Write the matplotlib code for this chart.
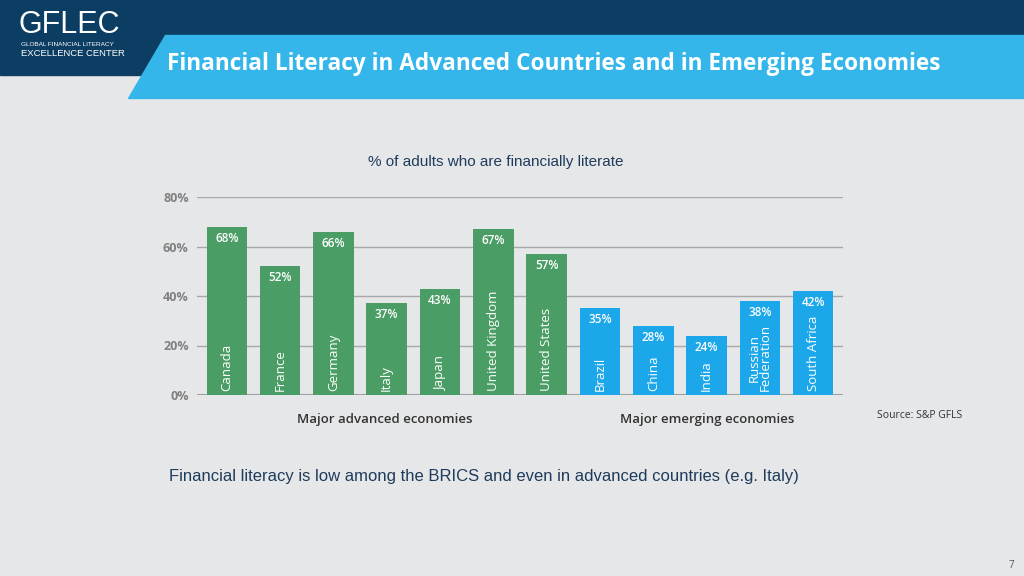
import matplotlib.pyplot as plt
from matplotlib.patches import Polygon, Rectangle

countries = ["Canada", "France", "Germany", "Italy", "Japan", "United Kingdom", "United States",
             "Brazil", "China", "India", "Russian\nFederation", "South Africa"]
values = [68, 52, 66, 37, 43, 67, 57, 35, 28, 24, 38, 42]
groups = ["adv"] * 7 + ["emg"] * 5
y_ticks = [0, 20, 40, 60, 80]

GREEN = "#4a9d65"
BLUE = "#1ba7ea"
BG = "#e6e7e9"
NAVY = "#0c3d62"
LIGHT = "#35b6ea"
FONT = "Open Sans"

fig = plt.figure(figsize=(10.24, 5.76), dpi=100, facecolor=BG)

# header
fig.patches.append(Rectangle((0, 1 - 75 / 576), 1, 75 / 576, transform=fig.transFigure, color=NAVY, zorder=0))
fig.patches.append(Polygon([(165 / 1024, 1 - 35 / 576), (1, 1 - 35 / 576), (1, 1 - 98 / 576), (128 / 1024, 1 - 98 / 576)],
                           closed=True, transform=fig.transFigure, color=LIGHT, zorder=1))
fig.text(19 / 1024, 1 - 25 / 576, "GFLEC", color="white", fontsize=22, family="Liberation Sans", va="center")
fig.text(21 / 1024, 1 - 45 / 576, "GLOBAL FINANCIAL LITERACY", color="white", fontsize=4.6, family="Liberation Sans", va="center")
fig.text(21 / 1024, 1 - 54 / 576, "EXCELLENCE CENTER", color="white", fontsize=6.8, family="Liberation Sans", va="center")
fig.text(167 / 1024, 1 - 64 / 576, "Financial Literacy in Advanced Countries and in Emerging Economies",
         color="white", fontsize=16.3, fontweight="bold", family=FONT, va="center")

fig.text(496 / 1024, 1 - 162 / 576, "% of adults who are financially literate", color="#1f3b5a",
         fontsize=11, family="Liberation Sans", ha="center", va="center")

ax = fig.add_axes([197 / 1024, 1 - 395 / 576, (843 - 197) / 1024, (395 - 197) / 576])
ax.set_facecolor(BG)
xs = list(range(len(values)))
colors = [GREEN if g == "adv" else BLUE for g in groups]
ax.bar(xs, values, width=0.76, color=colors, zorder=3)
for x, v, name in zip(xs, values, countries):
    ax.text(x, v - 2, f"{v}%", color="white", fontsize=8.5, family=FONT, fontweight="semibold", ha="center", va="top", zorder=4)
    ax.text(x, 1.5, name, color="white", fontsize=9.5, family=FONT, rotation=90, ha="center", va="bottom",
            zorder=4, linespacing=0.85)
ax.set_xlim(-0.56, 11.56)
ax.set_ylim(0, 80)
ax.set_yticks(y_ticks)
ax.set_yticklabels([f"{t}%" for t in y_ticks], color="#808080", fontsize=9, family=FONT, fontweight="bold")
ax.tick_params(length=0, pad=6)
ax.set_xticks([])
ax.yaxis.grid(True, color="#a8a8a8", linewidth=1.0, zorder=0)
for s in ax.spines.values():
    s.set_visible(False)
ax.axhline(0, color="#a0a0a0", linewidth=1.5, zorder=2)

fig.text(385 / 1024, 1 - 419 / 576, "Major advanced economies", color="#333333", fontsize=9.5, family=FONT,
         fontweight="semibold", ha="center", va="center")
fig.text(707 / 1024, 1 - 419 / 576, "Major emerging economies", color="#333333", fontsize=9.5, family=FONT,
         fontweight="semibold", ha="center", va="center")
fig.text(877 / 1024, 1 - 416 / 576, "Source: S&P GFLS", color="#333333", fontsize=7.5, family=FONT, va="center")
fig.text(169 / 1024, 1 - 477 / 576, "Financial literacy is low among the BRICS and even in advanced countries (e.g. Italy)",
         color="#1f3b5a", fontsize=12, family="Liberation Sans", va="center")
fig.text(1014 / 1024, 1 - 566 / 576, "7", color="#555555", fontsize=7, family=FONT, ha="right", va="center")

fig.savefig("out.png", dpi=100, facecolor=BG)
